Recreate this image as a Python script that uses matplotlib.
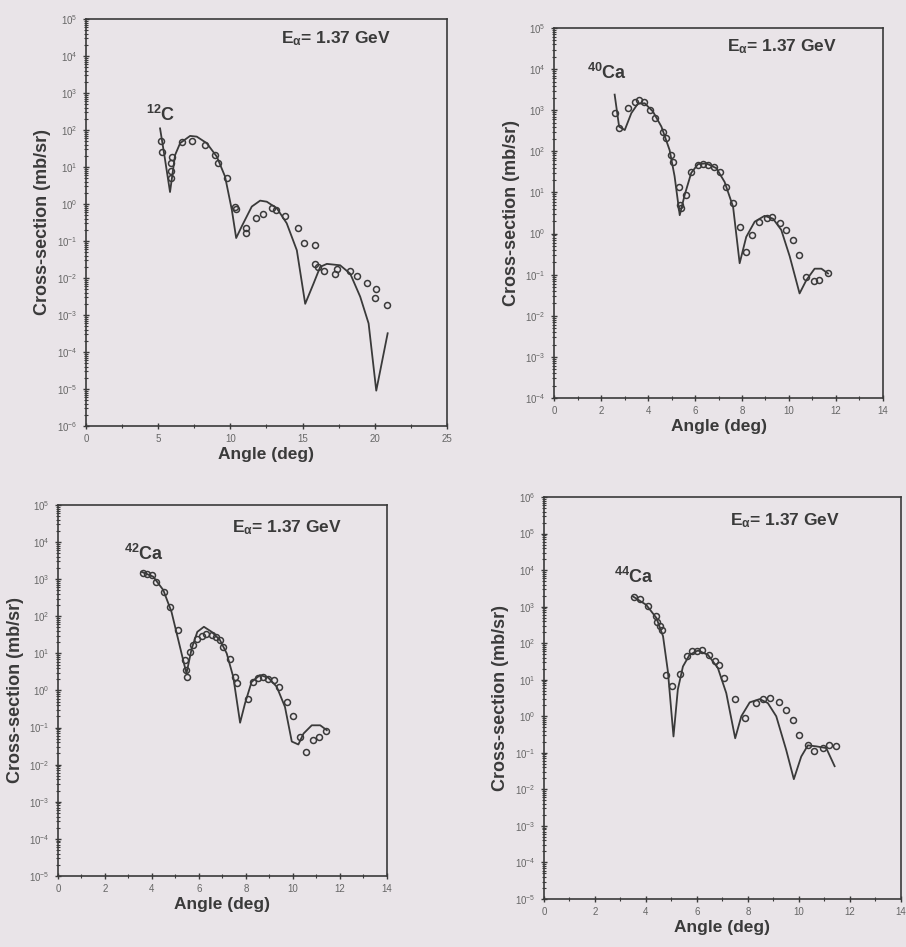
import matplotlib
matplotlib.use("Agg")
import matplotlib.pyplot as plt
from matplotlib.ticker import LogLocator, MultipleLocator, NullFormatter

plt.rcParams['font.family'] = ['Liberation Sans', 'DejaVu Sans']
plt.rcParams['mathtext.default'] = 'regular'

# ---- 12C ----
c12_theory_x = [5.13, 5.41, 5.82, 6.17, 6.52, 7.21, 7.67, 8.36, 9.06, 9.63, 10.1, 10.4,
                10.79, 11.48, 12.06, 12.52, 13.22, 13.9, 14.6, 15.18, 15.76, 16.22, 16.68,
                17.6, 18.3, 18.99, 19.57, 20.1, 20.89]
c12_theory_y = [1.1e2, 23, 2.1, 21, 44, 69, 66, 44, 19, 5.5, 0.69, 0.12,
                0.25, 0.85, 1.23, 1.15, 0.76, 0.30, 0.056, 2.0e-3, 7.1e-3, 2.0e-2, 2.4e-2,
                2.2e-2, 1.3e-2, 3.1e-3, 5.9e-4, 9e-6, 3.2e-4]
c12_exp_x = [5.18, 5.24, 5.94, 5.87, 5.87, 5.87, 6.63, 7.32, 8.25, 8.94, 9.17, 9.75,
             10.33, 10.4, 11.07, 11.07, 11.78, 12.25, 12.87, 13.17, 13.8, 14.65, 15.13,
             15.83, 15.87, 16.06, 16.5, 17.26, 17.38, 18.25, 18.76, 19.45, 20.1, 20.03, 20.84]
c12_exp_y = [49, 26, 19, 12.6, 7.6, 5.0, 46, 49, 40, 21, 12.6, 4.9,
             0.85, 0.72, 0.22, 0.16, 0.41, 0.54, 0.76, 0.69, 0.46, 0.22, 0.087,
             0.078, 0.024, 0.020, 0.015, 0.013, 0.017, 0.015, 0.011, 7.4e-3, 4.9e-3, 2.8e-3, 1.9e-3]

# ---- 40Ca ----
ca40_theory_x = [2.58, 2.77, 3.01, 3.29, 3.57, 3.86, 4.21, 4.57, 4.92, 5.13, 5.35, 5.56,
                 5.84, 6.13, 6.48, 6.91, 7.26, 7.62, 7.9, 8.18, 8.54, 8.96, 9.32, 9.67,
                 10.03, 10.45, 10.74, 11.09, 11.38, 11.66]
ca40_theory_y = [2.4e3, 4.0e2, 3.3e2, 8.5e2, 1.45e3, 1.48e3, 9.3e2, 4.0e2, 1.07e2, 25, 2.8, 8.7,
                 30, 49, 51, 39, 18, 4.5, 0.19, 0.83, 1.95, 2.7, 2.3, 1.23,
                 0.28, 0.035, 0.074, 0.14, 0.14, 0.107]
ca40_exp_x = [2.58, 2.77, 3.15, 3.43, 3.62, 3.83, 4.1, 4.31, 4.64, 4.75, 4.96, 5.06,
              5.32, 5.35, 5.42, 5.6, 5.84, 6.13, 6.34, 6.55, 6.79, 7.08, 7.33, 7.62,
              7.9, 8.16, 8.43, 8.72, 9.06, 9.29, 9.63, 9.89, 10.17, 10.43, 10.74,
              11.05, 11.28, 11.66]
ca40_exp_y = [850, 360, 1120, 1550, 1740, 1550, 1020, 650, 290, 210, 81, 56,
              13.8, 4.9, 4.1, 8.7, 32, 47, 49, 47, 41, 32, 13.8, 5.6,
              1.48, 0.36, 0.91, 1.95, 2.45, 2.57, 1.78, 1.23, 0.68, 0.30, 0.089,
              0.071, 0.076, 0.112]

# ---- 42Ca ----
ca42_theory_x = [3.55, 4.05, 4.48, 4.83, 5.12, 5.36, 5.47, 5.69, 5.93, 6.21, 6.54, 6.89,
                 7.18, 7.46, 7.75, 7.96, 8.24, 8.6, 8.95, 9.31, 9.66, 9.95, 10.23, 10.45,
                 10.8, 11.16, 11.44]
ca42_theory_y = [1.58e3, 1.17e3, 5.1e2, 1.32e2, 23, 5.4, 2.9, 13.5, 38, 52, 38, 23,
                 10, 2.3, 0.135, 0.45, 1.7, 2.6, 2.2, 1.26, 0.36, 0.042, 0.035, 0.069,
                 0.115, 0.115, 0.085]
ca42_exp_x = [3.6, 3.77, 3.98, 4.19, 4.51, 4.76, 5.09, 5.4, 5.44, 5.5, 5.61, 5.76,
              5.93, 6.11, 6.3, 6.54, 6.72, 6.89, 7.04, 7.32, 7.53, 7.6, 8.1, 8.31,
              8.53, 8.74, 8.95, 9.2, 9.42, 9.74, 9.99, 10.3, 10.56, 10.87, 11.09, 11.41]
ca42_exp_y = [1480, 1380, 1290, 850, 460, 180, 43, 6.6, 3.5, 2.3, 11, 16.6,
              24, 30, 33, 31, 27, 23, 14.5, 7.2, 2.3, 1.55, 0.60, 1.7,
              2.2, 2.3, 2.1, 1.9, 1.26, 0.49, 0.20, 0.056, 0.022, 0.046, 0.056, 0.081]

# ---- 44Ca ----
ca44_theory_x = [3.49, 4.01, 4.41, 4.67, 4.86, 5.08, 5.25, 5.45, 5.71, 6.04, 6.43, 6.82,
                 7.15, 7.5, 7.74, 8.07, 8.46, 8.78, 9.11, 9.5, 9.8, 10.09, 10.35, 10.68,
                 11.07, 11.4]
ca44_theory_y = [1.9e3, 1.12e3, 4.9e2, 1.55e2, 17, 0.28, 5.4, 23, 48, 63, 48, 21,
                 4.3, 0.25, 1.0, 2.4, 2.95, 2.3, 1.0, 0.12, 0.019, 0.079, 0.16, 0.15,
                 0.135, 0.043]
ca44_exp_x = [3.52, 3.78, 4.08, 4.38, 4.44, 4.56, 4.64, 4.77, 5.03, 5.35, 5.61, 5.82,
              6.0, 6.2, 6.47, 6.69, 6.86, 7.05, 7.5, 7.87, 8.33, 8.61, 8.88, 9.22,
              9.5, 9.76, 10.0, 10.35, 10.61, 10.94, 11.18, 11.44]
ca44_exp_y = [1820, 1620, 1020, 540, 370, 290, 224, 13.8, 6.6, 14.5, 44, 60,
              60, 66, 48, 32, 26, 11.2, 2.95, 0.89, 2.3, 2.95, 3.2, 2.4,
              1.5, 0.79, 0.30, 0.166, 0.110, 0.135, 0.166, 0.151]

bg = '#e9e4e8'
ink = '#3a3a3a'

fig = plt.figure(figsize=(9.06, 9.47), dpi=100, facecolor=bg)


def draw_panel(rect, tx, ty, ex, ey, xmax, xmajor, xminor, ylo, yhi, iso, iso_pos, e_pos):
    ax = fig.add_axes(rect, facecolor=bg)
    ax.plot(tx, ty, color=ink, lw=1.3)
    ax.plot(ex, ey, 'o', mfc='none', mec=ink, ms=4.3, mew=1.1)
    ax.set_yscale('log')
    ax.set_xlim(0, xmax)
    ax.set_ylim(ylo, yhi)
    ax.xaxis.set_major_locator(MultipleLocator(xmajor))
    ax.xaxis.set_minor_locator(MultipleLocator(xminor))
    ax.yaxis.set_major_locator(LogLocator(base=10, numticks=20))
    ax.yaxis.set_minor_locator(LogLocator(base=10, subs=range(2, 10), numticks=20))
    ax.yaxis.set_minor_formatter(NullFormatter())
    ax.tick_params(axis='both', which='major', labelsize=7, labelcolor='#666666',
                   color=ink, length=5, width=1.0, direction='inout')
    ax.tick_params(axis='both', which='minor', color=ink, length=3, width=0.8, direction='inout')
    for s in ax.spines.values():
        s.set_color(ink)
        s.set_linewidth(1.2)
    ax.set_xlabel('Angle (deg)', fontsize=12.5, fontweight='bold', color=ink, labelpad=2)
    ax.set_ylabel('Cross-section (mb/sr)', fontsize=13, fontweight='bold', color=ink, labelpad=4)
    ax.text(e_pos[0], e_pos[1], r'E$_\alpha$= 1.37 GeV', transform=ax.transAxes,
            fontsize=12.5, fontweight='bold', color=ink, va='top')
    ax.text(iso_pos[0], iso_pos[1], iso, transform=ax.transAxes,
            fontsize=13, fontweight='bold', color=ink, va='top')
    return ax


draw_panel([0.0949, 0.5502, 0.3985, 0.4298], c12_theory_x, c12_theory_y, c12_exp_x, c12_exp_y,
           25, 5, 2.5, 1e-6, 1e5, r'$^{12}$C', (0.165, 0.79), (0.54, 0.975))
draw_panel([0.6115, 0.5797, 0.3631, 0.3907], ca40_theory_x, ca40_theory_y, ca40_exp_x, ca40_exp_y,
           14, 2, 1, 1e-4, 1e5, r'$^{40}$Ca', (0.10, 0.905), (0.525, 0.975))
draw_panel([0.0640, 0.0750, 0.3631, 0.3918], ca42_theory_x, ca42_theory_y, ca42_exp_x, ca42_exp_y,
           14, 2, 1, 1e-5, 1e5, r'$^{42}$Ca', (0.20, 0.895), (0.53, 0.965))
draw_panel([0.6004, 0.0507, 0.3940, 0.4245], ca44_theory_x, ca44_theory_y, ca44_exp_x, ca44_exp_y,
           14, 2, 1, 1e-5, 1e6, r'$^{44}$Ca', (0.195, 0.825), (0.52, 0.965))

fig.savefig('out.png', dpi=100, facecolor=bg)
